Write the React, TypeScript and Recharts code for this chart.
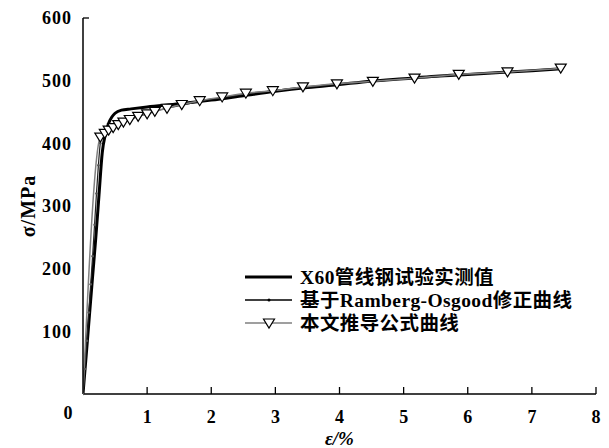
import { LineChart, Line, XAxis, YAxis } from 'recharts';

const xTicks = [0, 1, 2, 3, 4, 5, 6, 7, 8];
const yTicks = [0, 100, 200, 300, 400, 500, 600];

// X60 管线钢试验实测值 (ε %, σ MPa)
const testStrain = [0, 0.05, 0.1, 0.15, 0.2, 0.25, 0.3, 0.35, 0.4, 0.45, 0.5, 0.6, 0.75, 1.0, 1.5, 2.0, 2.5, 3.0, 3.5, 4.0, 4.5, 5.0, 5.5, 6.0, 6.5, 7.0, 7.45];
const testStress = [0, 62, 125, 188, 250, 318, 385, 415, 432, 442, 448, 453, 455, 458, 463, 469, 476, 483, 489, 494, 499, 503, 507, 510, 513, 516, 519];

// 基于Ramberg-Osgood修正曲线
const roStrain = [0, 0.03, 0.06, 0.09, 0.12, 0.15, 0.18, 0.21, 0.24, 0.27, 0.3, 0.34, 0.4, 0.47, 0.55, 0.63, 0.73, 0.86, 1.0, 1.15, 1.3, 1.55, 1.82, 2.17, 2.54, 2.96, 3.43, 3.96, 4.52, 5.17, 5.86, 6.62, 7.45];
const roStress = [0, 40, 85, 130, 175, 220, 270, 320, 365, 400, 410, 416, 421, 425, 430, 434, 438, 443, 447, 452, 456, 461, 467, 473, 479, 484, 489, 494, 499, 504, 509, 514, 519];

// 本文推导公式曲线
const fitStrain = [0, 0.27, 0.34, 0.4, 0.47, 0.55, 0.63, 0.73, 0.86, 1.0, 1.12, 1.31, 1.54, 1.82, 2.17, 2.54, 2.96, 3.43, 3.96, 4.52, 5.17, 5.86, 6.62, 7.45];
const fitStress = [0, 410, 416, 421, 425, 430, 434, 438, 443, 447, 451, 456, 462, 468, 474, 480, 484, 490, 495, 499, 504, 510, 514, 520];

const toPoints = (xs: number[], ys: number[]) => xs.map((x, i) => ({ x, y: ys[i] }));

const testData = toPoints(testStrain, testStress);
const roData = toPoints(roStrain, roStress);
const fitData = toPoints(fitStrain, fitStress);

const FONT = '"Liberation Serif", "Times New Roman", "Noto Sans CJK SC", serif';

const XTick = ({ x, y, payload }: any) => {
  const v = payload.value;
  if (v === 0) {
    return (
      <text x={x - 15} y={y + 25} textAnchor="middle" fontFamily={FONT} fontWeight="bold" fontSize={18} fill="#000">
        0
      </text>
    );
  }
  return (
    <g>
      <line x1={x} y1={y} x2={x} y2={y - 7} stroke="#000" strokeWidth={1.3} />
      <text x={x} y={y + 29} textAnchor="middle" fontFamily={FONT} fontWeight="bold" fontSize={18} fill="#000">
        {v}
      </text>
    </g>
  );
};

const YTick = ({ x, y, payload }: any) => {
  const v = payload.value;
  if (v === 0) return null;
  return (
    <g>
      {v === 600 && <line x1={x} y1={y} x2={x + 6} y2={y} stroke="#000" strokeWidth={1.3} />}
      <text x={x - 11} y={y} dy="0.35em" textAnchor="end" fontFamily={FONT} fontWeight="bold" fontSize={18} letterSpacing={1} fill="#000">
        {v}
      </text>
    </g>
  );
};

const TriangleDot = ({ cx, cy, index }: any) => {
  if (index === 0 || cx == null) return null;
  return (
    <path
      d={`M${cx - 5.5},${cy - 4} L${cx + 5.5},${cy - 4} L${cx},${cy + 5} Z`}
      fill="#fff"
      stroke="#000"
      strokeWidth={1.2}
    />
  );
};

const SmallDot = ({ cx, cy }: any) => {
  if (cx == null) return null;
  return <circle cx={cx} cy={cy} r={1.3} fill="#555" stroke="none" />;
};

const legendItems = ['X60管线钢试验实测值', '基于Ramberg-Osgood修正曲线', '本文推导公式曲线'];

const LegendBox = () => (
  <svg width={360} height={80} style={{ position: 'absolute', left: 240, top: 262 }}>
    <line x1={5} y1={15} x2={52} y2={15} stroke="#000" strokeWidth={3} />
    <line x1={5} y1={38} x2={52} y2={38} stroke="#000" strokeWidth={1.5} />
    <circle cx={29} cy={38} r={1.5} fill="#000" />
    <line x1={5} y1={61} x2={52} y2={61} stroke="#7f7f7f" strokeWidth={1.5} />
    <path d="M23.5,57 L34.5,57 L29,66 Z" fill="#fff" stroke="#000" strokeWidth={1.2} />
    {legendItems.map((t, i) => (
      <text key={t} x={60} y={15 + i * 23} dy="0.36em" fontFamily={FONT} fontWeight="bold" fontSize={19.5} letterSpacing={0.4} fill="#000">
        {t}
      </text>
    ))}
  </svg>
);

export default function App() {
  return (
    <div style={{ position: 'absolute', left: 0, top: 0, width: 609, height: 448, background: '#fff' }}>
      <LineChart width={609} height={448} margin={{ top: 18, right: 13, left: 0, bottom: 0 }}>
        <XAxis
          type="number"
          dataKey="x"
          domain={[0, 8]}
          ticks={xTicks}
          allowDataOverflow
          height={54}
          axisLine={{ stroke: '#000', strokeWidth: 1.5 }}
          tickLine={false}
          tickSize={0}
          tickMargin={0}
          tick={<XTick />}
          interval={0}
          label={{ value: 'ε/%', position: 'insideBottom', offset: 3, fontFamily: FONT, fontWeight: 'bold', fontStyle: 'italic', fontSize: 19, fill: '#000' }}
        />
        <YAxis
          type="number"
          dataKey="y"
          domain={[0, 600]}
          ticks={yTicks}
          width={83}
          axisLine={{ stroke: '#000', strokeWidth: 1.5 }}
          tickLine={false}
          tickSize={0}
          tickMargin={0}
          tick={<YTick />}
          interval={0}
          label={{ value: 'σ/MPa', angle: -90, position: 'insideLeft', offset: 28, fontFamily: FONT, fontWeight: 'bold', fontSize: 20, letterSpacing: 1, fill: '#000', style: { textAnchor: 'middle' } }}
        />
        <Line data={testData} dataKey="y" type="monotone" stroke="#000" strokeWidth={3} dot={false} isAnimationActive={false} />
        <Line data={roData} dataKey="y" type="monotone" stroke="#222" strokeWidth={1.2} dot={<SmallDot />} isAnimationActive={false} />
        <Line data={fitData} dataKey="y" type="monotone" stroke="#7f7f7f" strokeWidth={1.5} dot={<TriangleDot />} isAnimationActive={false} />
      </LineChart>
      <LegendBox />
    </div>
  );
}
